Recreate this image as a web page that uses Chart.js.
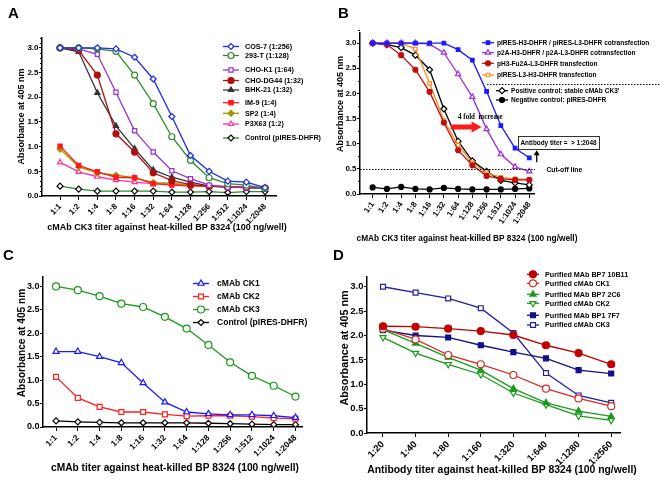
<!DOCTYPE html>
<html>
<head>
<meta charset="utf-8">
<script src="https://cdn.jsdelivr.net/npm/chart.js@4.4.1/dist/chart.umd.min.js"></script>
<style>
  html, body { margin: 0; padding: 0; background: #fff; }
  #fig { position: relative; width: 661px; height: 480px; overflow: hidden; }
  .panel { position: absolute; }
</style>
</head>
<body>
<div id="fig">
  <div class="panel" style="left:0;top:0;width:330px;height:240px"><canvas id="chartA"></canvas></div>
  <div class="panel" style="left:330px;top:0;width:331px;height:246px"><canvas id="chartB"></canvas></div>
  <div class="panel" style="left:0;top:240px;width:330px;height:240px"><canvas id="chartC"></canvas></div>
  <div class="panel" style="left:330px;top:240px;width:331px;height:240px"><canvas id="chartD"></canvas></div>
</div>
<script>
// ---- data ----
const dilutions = ['1:1', '1:2', '1:4', '1:8', '1:16', '1:32', '1:64', '1:128', '1:256', '1:512', '1:1024', '1:2048'];
const titersD = ['1:20', '1:40', '1:80', '1:160', '1:320', '1:640', '1:1280', '1:2560'];
const yTicks = [0, 0.5, 1.0, 1.5, 2.0, 2.5, 3.0];
const cutoff = 0.5;

// panel A - host cell lines
const cos7    = [3.0, 3.0, 3.0, 2.98, 2.81, 2.37, 1.61, 0.82, 0.50, 0.30, 0.28, 0.17];
const t293    = [3.0, 3.0, 2.98, 2.93, 2.45, 1.87, 1.20, 0.72, 0.37, 0.25, 0.22, 0.15];
const chok1   = [3.0, 2.98, 2.87, 2.10, 1.32, 0.89, 0.51, 0.35, 0.22, 0.18, 0.17, 0.15];
const chodg44 = [3.0, 2.95, 2.45, 1.26, 0.89, 0.47, 0.31, 0.23, 0.20, 0.18, 0.17, 0.16];
const bhk21   = [3.0, 2.92, 2.09, 1.42, 0.96, 0.53, 0.38, 0.28, 0.20, 0.18, 0.17, 0.16];
const im9     = [1.01, 0.62, 0.49, 0.38, 0.37, 0.25, 0.22, 0.20, 0.20, 0.19, 0.18, 0.17];
const sp2     = [0.95, 0.59, 0.47, 0.42, 0.37, 0.27, 0.26, 0.22, 0.20, 0.19, 0.18, 0.17];
const p3x63   = [0.68, 0.49, 0.39, 0.32, 0.28, 0.25, 0.24, 0.22, 0.20, 0.19, 0.18, 0.17];
const ctrlA   = [0.20, 0.14, 0.10, 0.10, 0.10, 0.10, 0.08, 0.08, 0.09, 0.07, 0.09, 0.09];

// panel B - vector constructs
const iresCo  = [3.0, 3.0, 3.0, 3.0, 3.0, 3.0, 2.87, 2.66, 2.04, 1.36, 0.91, 0.72];
const p2aCo   = [3.0, 3.0, 3.0, 3.0, 2.98, 2.81, 2.38, 1.93, 1.29, 0.79, 0.54, 0.45];
const fu2a    = [3.0, 2.97, 2.76, 2.47, 2.03, 1.42, 0.87, 0.57, 0.36, 0.30, 0.28, 0.28];
const iresL3  = [3.0, 3.0, 3.0, 2.88, 2.20, 1.46, 0.97, 0.62, 0.42, 0.33, 0.30, 0.29];
const posCtrl = [3.0, 2.97, 2.91, 2.76, 2.47, 1.69, 1.05, 0.66, 0.45, 0.27, 0.22, 0.18];
const negCtrl = [0.13, 0.10, 0.14, 0.10, 0.09, 0.12, 0.10, 0.09, 0.09, 0.09, 0.10, 0.11];

// panel C - cMAb clones
const ck1 = [1.61, 1.61, 1.50, 1.37, 0.94, 0.53, 0.32, 0.28, 0.26, 0.26, 0.24, 0.20];
const ck2 = [1.07, 0.62, 0.43, 0.32, 0.32, 0.27, 0.23, 0.24, 0.24, 0.22, 0.19, 0.18];
const ck3 = [3.0, 2.92, 2.79, 2.63, 2.56, 2.35, 2.10, 1.75, 1.38, 1.09, 0.88, 0.65];
const ctrlC = [0.13, 0.11, 0.10, 0.09, 0.09, 0.09, 0.09, 0.08, 0.07, 0.06, 0.05, 0.05];

// panel D - purified antibodies
const mab10b11 = [2.19, 2.18, 2.14, 2.09, 2.01, 1.80, 1.64, 1.41];
const pCk1     = [2.14, 1.92, 1.60, 1.41, 1.19, 0.91, 0.71, 0.55];
const mab2c6   = [2.12, 1.84, 1.55, 1.29, 0.91, 0.62, 0.45, 0.34];
const pCk2     = [1.96, 1.64, 1.41, 1.20, 0.82, 0.58, 0.35, 0.26];
const mab7f7   = [2.11, 2.00, 1.96, 1.80, 1.66, 1.53, 1.29, 1.22];
const pCk3     = [3.0, 2.88, 2.76, 2.56, 2.05, 1.23, 0.77, 0.62];

// ---- helpers ----
const FONT = '"Liberation Sans", Arial, sans-serif';
const Y_TITLE = 'Absorbance at 405 nm';

function series(label, vals, color, style, filled, more) {
  return Object.assign({
    label: label,
    data: vals.map((y, i) => ({ x: i, y: y })),
    borderColor: color,
    backgroundColor: color,
    borderWidth: 1.3,
    pointStyle: style,
    pointRadius: 3,
    pointBorderWidth: 1.2,
    pointBorderColor: color,
    pointBackgroundColor: filled ? color : '#fff',
    pointRotation: 0,
    tension: 0
  }, more || {});
}

function xScale(labels, min, max, o) {
  return {
    type: 'linear', min: min, max: max,
    afterBuildTicks: s => { s.ticks = labels.map((_, i) => ({ value: i })); },
    afterFit: s => { s.height = o.height; },
    ticks: {
      autoSkip: false, minRotation: o.rot, maxRotation: o.rot, padding: 2, color: '#000',
      font: { family: FONT, size: o.tick, weight: 'bold' },
      callback: v => labels[v]
    },
    grid: { drawOnChartArea: false, tickLength: 4, color: '#000', tickColor: '#000' },
    border: { display: true, color: '#000', width: 1.5 }
  };
}

function yScale(o) {
  return {
    min: 0, max: 3.2,
    afterBuildTicks: s => { s.ticks = yTicks.map(v => ({ value: v })); },
    afterFit: s => { s.width = o.width; },
    ticks: {
      padding: 0.5, color: '#000',
      font: { family: FONT, size: o.tick, weight: 'bold' },
      callback: v => v.toFixed(1)
    },
    grid: { drawOnChartArea: false, tickLength: 3, color: '#000', tickColor: '#000' },
    border: { display: true, color: '#000', width: 1.5 }
  };
}

function squeezedText(ctx, t, x, y, squeeze) {
  ctx.fillText(t, x, y, ctx.measureText(t).width * squeeze);
}

// letter, axis titles, minor ticks, line+marker legend, extras
const figPlugin = {
  id: 'fig',
  afterDraw(chart, args, opts) {
    const ctx = chart.ctx;
    const ys = chart.scales.y;
    ctx.save();
    if (opts.minorStep) {
      ctx.strokeStyle = '#000';
      ctx.lineWidth = 1;
      const n = Math.round(3.2 / opts.minorStep);
      for (let k = 0; k <= n; k++) {
        const v = k * opts.minorStep;
        if (Math.abs(v * 2 - Math.round(v * 2)) < 1e-6) continue;
        const py = Math.round(ys.getPixelForValue(v)) + 0.5;
        ctx.beginPath();
        ctx.moveTo(ys.right - 2, py);
        ctx.lineTo(ys.right, py);
        ctx.stroke();
      }
    }
    ctx.fillStyle = '#000';
    ctx.textAlign = 'left';
    ctx.textBaseline = 'alphabetic';
    ctx.font = 'bold 15px ' + FONT;
    ctx.fillText(opts.letter, opts.letterX, opts.letterY);

    // axis titles
    const t = opts.titles;
    ctx.textAlign = 'center';
    ctx.textBaseline = 'middle';
    ctx.font = 'bold ' + t.xSize + 'px ' + FONT;
    ctx.fillText(t.x, t.xc[0], t.xc[1]);
    ctx.save();
    ctx.translate(t.yc[0], t.yc[1]);
    ctx.rotate(-Math.PI / 2);
    ctx.font = 'bold ' + t.ySize + 'px ' + FONT;
    ctx.fillText(Y_TITLE, 0, 0);
    ctx.restore();

    const lg = opts.legend;
    ctx.textAlign = 'left';
    ctx.font = 'bold ' + lg.size + 'px ' + FONT;
    chart.data.datasets.forEach((ds, i) => {
      const ly = lg.rows[i];
      const sx = lg.sx[i] !== undefined ? lg.sx[i] : lg.sx[0];
      ctx.strokeStyle = ds.borderColor;
      ctx.lineWidth = ds.borderWidth;
      ctx.beginPath();
      ctx.moveTo(sx - lg.half, ly);
      ctx.lineTo(sx + lg.half, ly);
      ctx.stroke();
      ctx.fillStyle = ds.pointBackgroundColor;
      ctx.strokeStyle = ds.pointBorderColor;
      ctx.lineWidth = ds.pointBorderWidth;
      Chart.helpers.drawPoint(ctx, {
        pointStyle: ds.pointStyle, rotation: ds.pointRotation,
        radius: ds.pointRadius, borderWidth: ds.pointBorderWidth
      }, sx, ly);
      ctx.fillStyle = '#000';
      squeezedText(ctx, ds.label, sx + lg.gap, ly, lg.squeeze);
    });
    if (opts.extra) opts.extra(chart, ctx);
    ctx.restore();
  }
};

function arrow(ctx, x0, y0, x1, y1, shaft, headW, headL) {
  const a = Math.atan2(y1 - y0, x1 - x0);
  const len = Math.hypot(x1 - x0, y1 - y0);
  ctx.save();
  ctx.translate(x0, y0);
  ctx.rotate(a);
  ctx.beginPath();
  ctx.moveTo(0, -shaft / 2);
  ctx.lineTo(len - headL, -shaft / 2);
  ctx.lineTo(len - headL, -headW / 2);
  ctx.lineTo(len, 0);
  ctx.lineTo(len - headL, headW / 2);
  ctx.lineTo(len - headL, shaft / 2);
  ctx.lineTo(0, shaft / 2);
  ctx.closePath();
  ctx.fill();
  ctx.restore();
}

// panel B notes: cut-off line, fold arrow, titer box
function notesB(chart, ctx) {
  const xs = chart.scales.x, ys = chart.scales.y, area = chart.chartArea;
  ctx.strokeStyle = '#000';
  ctx.lineWidth = 1;
  ctx.setLineDash([1.5, 1.5]);
  const yc = Math.round(ys.getPixelForValue(cutoff)) + 0.5;
  ctx.beginPath();
  ctx.moveTo(area.left, yc);
  ctx.lineTo(xs.getPixelForValue(11.4), yc);
  ctx.stroke();
  ctx.beginPath();
  ctx.moveTo(157, 84.5);
  ctx.lineTo(331, 84.5);
  ctx.stroke();
  ctx.setLineDash([]);

  ctx.fillStyle = '#000';
  ctx.textAlign = 'left';
  ctx.textBaseline = 'middle';
  ctx.font = 'bold 8px ' + FONT;
  squeezedText(ctx, 'Cut-off line', xs.getPixelForValue(12.2), ys.getPixelForValue(0.48), 0.85);

  ctx.fillStyle = '#ff1a1a';
  const ya = ys.getPixelForValue(1.33);
  arrow(ctx, xs.getPixelForValue(5.48), ya, xs.getPixelForValue(7.65), ya, 5, 11, 10);
  ctx.fillStyle = '#000';
  ctx.font = 'bold 8.5px "Liberation Serif", "Times New Roman", serif';
  squeezedText(ctx, '4 fold  increase', xs.getPixelForValue(6.0), ys.getPixelForValue(1.53), 0.82);

  const bx0 = xs.getPixelForValue(10.2), bx1 = xs.getPixelForValue(15.9);
  const by0 = ys.getPixelForValue(1.15), by1 = ys.getPixelForValue(0.89);
  ctx.lineWidth = 1;
  ctx.strokeStyle = '#333';
  ctx.strokeRect(Math.round(bx0) + 0.5, Math.round(by0) + 0.5, Math.round(bx1 - bx0), Math.round(by1 - by0));
  ctx.font = 'bold 8px ' + FONT;
  ctx.textAlign = 'center';
  squeezedText(ctx, 'Antibody titer =  > 1:2048', (bx0 + bx1) / 2, (by0 + by1) / 2, 0.8);

  ctx.fillStyle = '#000';
  const ax = xs.getPixelForValue(11.52);
  arrow(ctx, ax, ys.getPixelForValue(0.63), ax, ys.getPixelForValue(0.87), 1.3, 6, 5);
}

function makeChart(id, labels, datasets, g) {
  return new Chart(document.getElementById(id), {
    type: 'line',
    data: { datasets: datasets },
    options: {
      responsive: true,
      maintainAspectRatio: false,
      animation: false,
      layout: { padding: { top: g.top, right: g.right, left: 0, bottom: 0 } },
      scales: {
        x: xScale(labels, g.xmin, g.xmax, g.x),
        y: yScale(g.y)
      },
      plugins: {
        legend: { display: false },
        tooltip: { enabled: false },
        fig: g.fig
      }
    },
    plugins: [figPlugin]
  });
}

// ---- A ----
makeChart('chartA', dilutions, [
  series('COS-7 (1:256)', cos7, '#1f2be8', 'rectRot', false),
  series('293-T (1:128)', t293, '#2e8b2e', 'circle', false),
  series('CHO-K1 (1:64)', chok1, '#9932cc', 'rect', false),
  series('CHO-DG44 (1:32)', chodg44, '#b01010', 'circle', true),
  series('BHK-21 (1:32)', bhk21, '#333333', 'triangle', true),
  series('IM-9 (1:4)', im9, '#ff1a1a', 'rect', true),
  series('SP2 (1:4)', sp2, '#9a9a00', 'rectRot', true),
  series('P3X63 (1:2)', p3x63, '#ff3399', 'triangle', false),
  series('Control (pIRES-DHFR)', ctrlA, '#2e8b2e', 'rectRot', false, { pointBorderColor: '#000' })
], {
  top: 38, right: 54, xmin: -0.97, xmax: 11.59,
  x: { height: 44, rot: 45, tick: 8 },
  y: { width: 42, tick: 8 },
  fig: {
    letter: 'A', letterX: 8, letterY: 18, minorStep: 0.1,
    titles: { x: 'cMAb CK3 titer against heat-killed BP 8324 (100 ng/well)', xSize: 9, xc: [167, 228],
      ySize: 9, yc: [22, 116.5] },
    legend: { size: 8, squeeze: 0.9, sx: [231], half: 8, gap: 14,
      rows: [46.5, 55.5, 70, 80.5, 90, 102.7, 113.3, 124, 138] }
  }
});

// ---- B ----
makeChart('chartB', dilutions, [
  series('pIRES-H3-DHFR / pIRES-L3-DHFR cotransfection', iresCo, '#1a1aff', 'rect', true, { pointRadius: 2.5 }),
  series('p2A-H3-DHFR / p2A-L3-DHFR cotransfection', p2aCo, '#9b30d0', 'triangle', false),
  series('pH3-Fu2A-L3-DHFR transfection', fu2a, '#c01010', 'circle', true, { pointRadius: 2.5 }),
  series('pIRES-L3-H3-DHFR transfection', iresL3, '#ff8c1a', 'rect', false, { pointRadius: 2.5 }),
  series("Positive control: stable cMAb CK3'", posCtrl, '#000000', 'rectRot', false),
  series('Negative control: pIRES-DHFR', negCtrl, '#000000', 'circle', true, { pointRadius: 2.5 })
], {
  top: 33, right: 127, xmin: -0.89, xmax: 11.33,
  x: { height: 52, rot: 55, tick: 8 },
  y: { width: 30, tick: 8 },
  fig: {
    letter: 'B', letterX: 8, letterY: 18, minorStep: 0.25,
    titles: { x: 'cMAb CK3 titer against heat-killed BP 8324 (100 ng/well)', xSize: 8.3, xc: [137, 239],
      ySize: 9, yc: [11, 104] },
    legend: { size: 8, squeeze: 0.82, sx: [158, 158, 158, 158, 172, 172], half: 6, gap: 9,
      rows: [42.7, 52.7, 63.3, 75, 90.7, 100] },
    extra: notesB
  }
});

// ---- C ----
makeChart('chartC', dilutions, [
  series('cMAb CK1', ck1, '#1a1aff', 'triangle', false, { pointRadius: 3.5 }),
  series('cMAb CK2', ck2, '#ff2020', 'rect', false, { pointRadius: 3.5 }),
  series('cMAb CK3', ck3, '#1a9a1a', 'circle', false, { pointRadius: 3.5 }),
  series('Control (pIRES-DHFR)', ctrlC, '#000000', 'rectRot', false)
], {
  top: 37, right: 28, xmin: -0.6, xmax: 11.3,
  x: { height: 53, rot: 45, tick: 8.5 },
  y: { width: 43, tick: 9 },
  fig: {
    letter: 'C', letterX: 3, letterY: 20,
    titles: { x: 'cMAb titer against heat-killed BP 8324 (100 ng/well)', xSize: 10.2, xc: [175, 228],
      ySize: 10.2, yc: [22, 103] },
    legend: { size: 9, squeeze: 0.95, sx: [201], half: 8, gap: 16,
      rows: [43.5, 56.5, 69.5, 82.5] }
  }
});

// ---- D ----
makeChart('chartD', titersD, [
  series('Purified MAb BP7 10B11', mab10b11, '#c00000', 'circle', true, { pointRadius: 3.5 }),
  series('Purified cMAb CK1', pCk1, '#d42a2a', 'circle', false, { pointRadius: 3.5 }),
  series('Purified MAb BP7 2C6', mab2c6, '#1a9a1a', 'triangle', true, { pointRadius: 3.5 }),
  series('Purified cMAb CK2', pCk2, '#1a9a1a', 'triangle', false, { pointRadius: 3.5, pointRotation: 180 }),
  series('Purified MAb BP1 7F7', mab7f7, '#10108c', 'rect', true, { pointRadius: 3.5 }),
  series('Purified cMAb CK3', pCk3, '#2020a0', 'rect', false, { pointRadius: 3.5 })
], {
  top: 37, right: 41, xmin: -0.49, xmax: 7.27,
  x: { height: 47, rot: 45, tick: 9.5 },
  y: { width: 37, tick: 9.5 },
  fig: {
    letter: 'D', letterX: 3, letterY: 20,
    titles: { x: 'Antibody titer against heat-killed BP 8324 (100 ng/well)', xSize: 10.4, xc: [172, 230],
      ySize: 10.8, yc: [15, 108] },
    legend: { size: 8, squeeze: 0.9, sx: [203], half: 6, gap: 12,
      rows: [34.3, 43.3, 54.3, 63.3, 75.3, 85] }
  }
});
</script>
</body>
</html>
